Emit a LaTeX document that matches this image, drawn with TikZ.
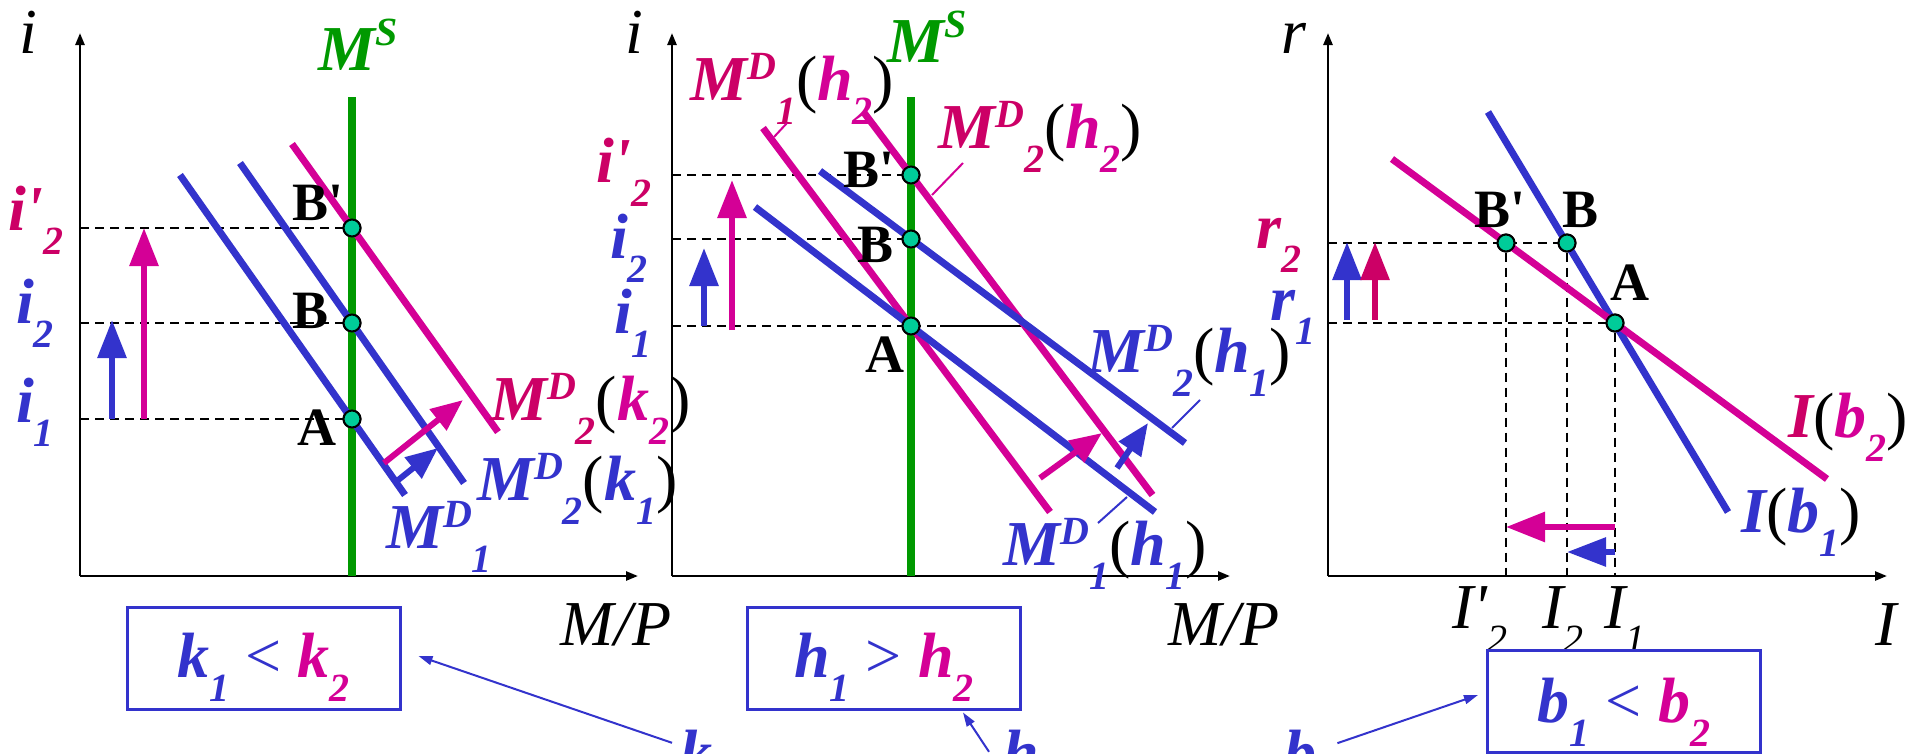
\documentclass[tikz,border=0pt]{standalone}
\usepackage{fontspec}
\setmainfont{Liberation Serif}
\usetikzlibrary{arrows.meta,calc}
\definecolor{bl}{RGB}{51,51,204}
\definecolor{mg}{RGB}{212,0,150}
\definecolor{cr}{RGB}{204,0,102}
\definecolor{gr}{RGB}{0,153,0}
\definecolor{tl}{RGB}{0,204,153}
\newcommand\supx[1]{\raisebox{21pt}{\fontsize{40}{40}\selectfont #1}}
\newcommand\supS[1]{\raisebox{25pt}{\fontsize{40}{40}\selectfont #1}}
\newcommand\subx[1]{\raisebox{-24pt}{\fontsize{40}{40}\selectfont #1}}
\newcommand\lp{{\color{black}\mdseries\upshape(}}
\newcommand\rp{{\color{black}\mdseries\upshape)}}
\newcommand\pr{\textquotesingle}
\begin{document}
\begin{tikzpicture}[x=1pt,y=-1pt,
  axis/.style={line width=2.5pt,-{Triangle[length=12pt,width=9pt]}},
  dsh/.style={line width=2pt,dash pattern=on 9pt off 6pt},
  crv/.style={line width=7pt},
  upar/.style={line width=6pt,-{Triangle[length=38pt,width=28pt]}},
  shar/.style={line width=6pt,-{Triangle[length=32pt,width=26pt]}},
  lead/.style={line width=2pt},
  thar/.style={line width=2pt,bl,-{Triangle[length=14pt,width=9pt]}},
  dot/.style={circle,draw=black,line width=2pt,fill=tl,minimum size=17pt,inner sep=0pt},
  lab/.style={font=\fontsize{64}{64}\selectfont\bfseries\itshape,inner sep=0pt,anchor=base west},
  axl/.style={font=\fontsize{64}{64}\selectfont\itshape,inner sep=0pt,anchor=base},
  axw/.style={font=\fontsize{64}{64}\selectfont\itshape,inner sep=0pt,anchor=base west},
  ptl/.style={font=\fontsize{54}{54}\selectfont\bfseries,inner sep=0pt,anchor=base},
  boxt/.style={font=\fontsize{64}{64}\selectfont\bfseries\itshape,inner sep=0pt,anchor=base},
  box/.style={draw=bl,line width=3pt,minimum width=273pt,minimum height=102pt,inner sep=0pt},
]
\useasboundingbox (0,0) rectangle (1917,753);

% ================= Panel 1 =================
\coordinate (O1) at (80,576);
\draw[axis] (O1) -- (80,33);
\draw[axis] (O1) -- (638,576);
\node[axl] (ilab1) at (28,53) {i};
\node[axl] (MP1) at (616,645) {M/P};

\node[dot] (Bp1) at (352,228) {};
\node[dot] (B1) at (352,323) {};
\node[dot] (A1) at (352,419) {};
\coordinate (y1a) at (80,228);
\coordinate (y1b) at (80,323);
\coordinate (y1c) at (80,419);
\draw[dsh] (y1a) -- (Bp1);
\draw[dsh] (y1b) -- (B1);
\draw[dsh] (y1c) -- (A1);

\draw[line width=7.5pt,gr] (352,97) -- (352,576);
\draw[crv,bl] (180,175) -- (405,495);
\draw[crv,bl] (240,163) -- (464,483);
\draw[crv,mg] (292,144) -- (498,432);

\node[dot] at (Bp1) {};
\node[dot] at (B1) {};
\node[dot] at (A1) {};

\node[lab,text=gr] (MS1) at (318,70) {M\supS{S}};
\node[ptl] (Bpl1) at (318,220) {B\pr};
\node[ptl] (Bl1) at (311,328) {B};
\node[ptl] (Al1) at (317,445) {A};

\node[lab,text=cr] (ip21) at (8,230) {i\pr\subx{2}};
\node[lab,text=bl] (i21) at (16,323) {i\subx{2}};
\node[lab,text=bl] (i11) at (16,422) {i\subx{1}};

\draw[upar,bl] (112,419) -- (112,320);
\draw[upar,mg] (144,419) -- (144,228);

\draw[shar,bl] (397,481) -- (438,448);
\draw[shar,mg] (384,463) -- (463,400);

\node[lab] (md2k2) at (490,420) {{\color{cr}M\supx{D}\subx{2}}\lp{\color{mg}k\subx{2}}\rp};
\node[lab] (md2k1) at (477,500) {{\color{bl}M\supx{D}\subx{2}}\lp{\color{bl}k\subx{1}}\rp};
\node[lab,text=bl] (md1k) at (386,548) {M\supx{D}\subx{1}};

\node[box] (kbox) at (263.5,658) {};
\node[boxt] (ktxt) at (263.5,677) {{\color{bl}k\subx{1} {\mdseries\upshape <} }{\color{mg}k\subx{2}}};

% ================= Panel 2 =================
\coordinate (O2) at (672,576);
\draw[axis] (O2) -- (672,33);
\draw[axis] (O2) -- (1230,576);
\node[axl] (ilab2) at (634,53) {i};
\node[axl] (MP2) at (1224,645) {M/P};

\node[dot] (Bp2) at (911,175) {};
\node[dot] (B2) at (911,239) {};
\node[dot] (A2) at (911,326) {};
\coordinate (y2a) at (672,175);
\coordinate (y2b) at (672,239);
\coordinate (y2c) at (672,326);
\coordinate (y2d) at (940,326);
\coordinate (y2e) at (1023,326);
\draw[dsh] (y2a) -- (Bp2);
\draw[dsh] (y2b) -- (B2);
\draw[dsh] (y2c) -- (y2d);
\draw[lead] (y2d) -- (y2e);

\draw[line width=7.5pt,gr] (911,97) -- (911,576);
\draw[crv,mg] (763,128) -- (1050,512);
\draw[crv,mg] (863.5,112) -- (1152.5,495);
\draw[crv,bl] (755,207) -- (1155,512);
\draw[crv,bl] (820,171) -- (1185,443);

\node[dot] at (Bp2) {};
\node[dot] at (B2) {};
\node[dot] at (A2) {};

\node[lab,text=gr] (MS2) at (887,62) {M\supS{S}};
\node[ptl] (Bpl2) at (869,187) {B\pr};
\node[ptl] (Bl2) at (875,262) {B};
\node[ptl] (Al2) at (885,372) {A};

\node[lab,text=cr] (ip22) at (596,182) {i\pr\subx{2}};
\node[lab,text=bl] (i22) at (610,258) {i\subx{2}};
\node[lab,text=bl] (i12) at (614,333) {i\subx{1}};

\draw[upar,bl] (704,326) -- (704,248);
\draw[upar,mg] (732,330) -- (732,180);

\draw[shar,mg] (1040,478) -- (1102,433);
\draw[shar,bl] (1117,468) -- (1148,423);

\node[lab] (md1h2) at (690,100) {{\color{cr}M\supx{D}\subx{1}}\lp{\color{mg}h\subx{2}}\rp};
\node[lab] (md2h2) at (938,148) {{\color{cr}M\supx{D}\subx{2}}\lp{\color{mg}h\subx{2}}\rp};
\node[lab] (md2h1) at (1087,372) {{\color{bl}M\supx{D}\subx{2}}\lp{\color{bl}h\subx{1}}\rp};
\node[lab] (md1h1) at (1003,565) {{\color{bl}M\supx{D}\subx{1}}\lp{\color{bl}h\subx{1}}\rp};
\draw[lead,mg] (774,137) -- (787,123);
\draw[lead,mg] (963,163) -- (932,195);
\draw[lead,bl] (1200,400) -- (1172,428);
\draw[lead,bl] (1127,497) -- (1098,523);

\node[box] (hbox) at (884,658) {};
\node[boxt] (htxt) at (884,677) {{\color{bl}h\subx{1} {\mdseries\upshape >} }{\color{mg}h\subx{2}}};

% ================= Panel 3 =================
\coordinate (O3) at (1328,576);
\draw[axis] (O3) -- (1328,33);
\draw[axis] (O3) -- (1887,576);
\node[axl] (rlab) at (1294,53) {r};
\node[axl] (Ilab) at (1886,645) {I};

\node[dot] (Bp3) at (1506,243) {};
\node[dot] (B3) at (1567,243) {};
\node[dot] (A3) at (1615,323) {};
\coordinate (y3a) at (1328,243);
\coordinate (y3b) at (1328,323);
\coordinate (x3a) at (1506,576);
\coordinate (x3b) at (1567,576);
\coordinate (x3c) at (1615,576);
\draw[dsh] (y3a) -- (B3);
\draw[dsh] (y3b) -- (A3);
\draw[dsh] (Bp3) -- (x3a);
\draw[dsh] (B3) -- (x3b);
\draw[dsh] (A3) -- (x3c);

\draw[crv,bl] (1488,112) -- (1728,512);
\draw[crv,mg] (1392,159) -- (1827,479);

\node[dot] at (Bp3) {};
\node[dot] at (B3) {};
\node[dot] at (A3) {};

\node[ptl] (Bpl3) at (1500,227) {B\pr};
\node[ptl] (Bl3) at (1580,227) {B};
\node[ptl] (Al3) at (1630,300) {A};

\node[lab,text=cr] (r2) at (1256,248) {r\subx{2}};
\node[lab,text=bl] (r1) at (1270,320) {r\subx{1}};

\draw[upar,bl] (1347,320) -- (1347,242);
\draw[upar,cr] (1375,320) -- (1375,242);

\draw[line width=6pt,mg,-{Triangle[length=39pt,width=29pt]}] (1615,527) -- (1506,527);
\draw[line width=6pt,bl,-{Triangle[length=39pt,width=28pt]}] (1615,552) -- (1567,552);

\node[axw] (Ip2) at (1452,628) {I\pr\subx{2}};
\node[axw] (I2) at (1542,628) {I\subx{2}};
\node[axw] (I1) at (1604,628) {I\subx{1}};

\node[lab] (Ib2) at (1788,437) {{\color{cr}I}\lp{\color{mg}b\subx{2}}\rp};
\node[lab] (Ib1) at (1741,532) {{\color{bl}I}\lp{\color{bl}b\subx{1}}\rp};

\node[box] (bbox) at (1624,701) {};
\node[boxt] (btxt) at (1624,722) {{\color{bl}b\subx{1} {\mdseries\upshape <} }{\color{mg}b\subx{2}}};

% ================= bottom letters =================
\node[lab,text=bl] (kl) at (680,774) {k};
\node[lab,text=bl] (hl) at (1003,774) {h};
\node[lab,text=bl] (bl) at (1284,774) {b};
\draw[thar] ($(kl.west)+(-8,-9)$) -- ($(kbox.east)+(17,-2)$);
\draw[thar] ($(hl.west)+(-14,0)$) -- ($(hbox.south)+(79,2)$);
\draw[thar] ($(bl.east)+(21,-9)$) -- ($(bbox.west)+(-8,-6)$);
\end{tikzpicture}
\end{document}
